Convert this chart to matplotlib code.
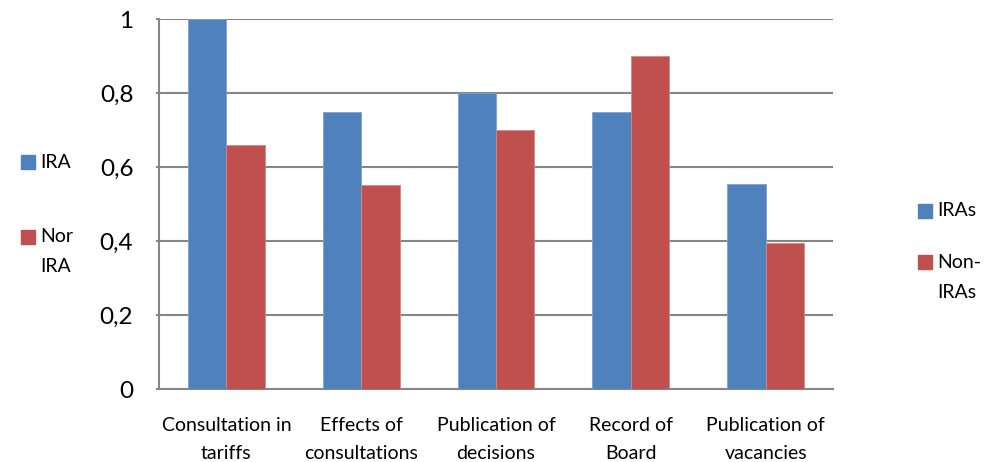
import matplotlib
matplotlib.use("Agg")
import matplotlib.pyplot as plt
from matplotlib.patches import Rectangle
import numpy as np

categories = ["Consultation in\ntariffs", "Effects of\nconsultations", "Publication of\ndecisions",
              "Record of\nBoard", "Publication of\nvacancies"]
ira = [1.0, 0.75, 0.8, 0.75, 0.553]
non_ira = [0.66, 0.55, 0.7, 0.9, 0.395]
yticks = [0, 0.2, 0.4, 0.6, 0.8, 1.0]
ytick_labels = ["0", "0,2", "0,4", "0,6", "0,8", "1"]
left_legend = [["IRA"], ["Nor", "IRA"]]
right_legend = [["IRAs"], ["Non-", "IRAs"]]

blue = "#4F81BD"
red = "#C0504D"
grid = "#868686"

plt.rcParams["font.family"] = ["Lato", "DejaVu Sans"]

W, H = 996, 462
fig = plt.figure(figsize=(W / 100, H / 100), dpi=100)
ax = fig.add_axes([159 / W, 1 - 389 / H, (833 - 159) / W, (389 - 19) / H])

x = np.arange(len(categories))
w = 0.285
ax.bar(x - w / 2, ira, w, color=blue, edgecolor="#7EA2D3", linewidth=0.6, zorder=3)
ax.bar(x + w / 2, non_ira, w, color=red, edgecolor="#D48886", linewidth=0.6, zorder=3)

ax.set_xlim(-0.5, len(categories) - 0.5)
ax.set_ylim(0, 1)
ax.set_yticks(yticks)
ax.set_yticklabels(ytick_labels, fontsize=17.5)
ax.set_xticks(x)
ax.set_xticklabels(categories, fontsize=14, linespacing=1.82)
ax.tick_params(axis="x", length=0, pad=20)
ax.tick_params(axis="y", length=2.5, width=1.5, color=grid, pad=16)
ax.yaxis.grid(True, color=grid, linewidth=1.5, zorder=0)
for s in ["top", "right"]:
    ax.spines[s].set_visible(False)
for s in ["left", "bottom"]:
    ax.spines[s].set_color(grid)
    ax.spines[s].set_linewidth(1.5)


def draw_legend(entries, colors, x_box, x_text, y_entries, line_gap):
    # square marker next to the first line of each (possibly wrapped) label
    for lines, color, y0 in zip(entries, colors, y_entries):
        fig.patches.append(Rectangle((x_box / W, 1 - (y0 + 7) / H), 14 / W, 14 / H,
                                     transform=fig.transFigure, color=color))
        for i, line in enumerate(lines):
            fig.text(x_text / W, 1 - (y0 + i * line_gap) / H, line, fontsize=14,
                     va="center", ha="left", color="#000000")


draw_legend(left_legend, [blue, red], 21, 40, [162, 237], 29)
draw_legend(right_legend, [blue, red], 918, 937, [211, 262], 30)

fig.savefig("out.png", dpi=100)
